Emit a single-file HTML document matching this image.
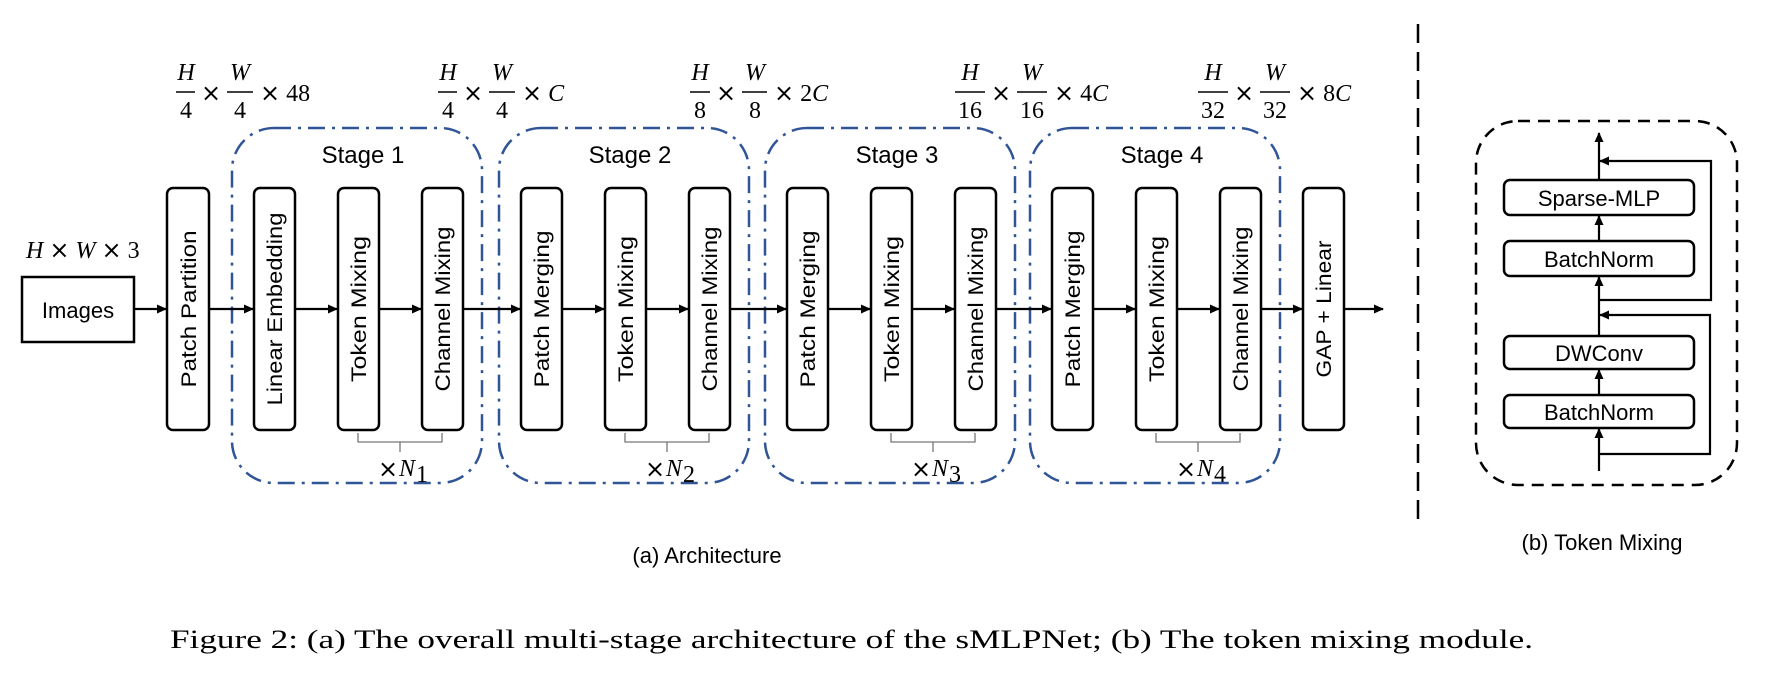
<!DOCTYPE html>
<html><head><meta charset="utf-8"><style>
html,body{margin:0;padding:0;background:#fff;}
svg{display:block;}
.b{font-family:"Liberation Sans",sans-serif;fill:#000;}
.m{font-family:"Liberation Serif",serif;font-style:italic;fill:#000;font-size:24px;}
.n{font-family:"Liberation Serif",serif;fill:#000;font-size:24px;}
.x{font-family:"DejaVu Sans",sans-serif;fill:#000;font-size:24px;}
</style></head><body>
<svg width="1774" height="691" viewBox="0 0 1774 691" xmlns="http://www.w3.org/2000/svg">
<defs>
<marker id="ah" markerWidth="10" markerHeight="10" refX="9" refY="5" orient="auto" markerUnits="userSpaceOnUse">
<path d="M0,0.5 L10,5 L0,9.5 z" fill="#000"/></marker>
</defs>
<g fill="none" stroke="#2F5597" stroke-width="2.5" stroke-dasharray="17 7 3 7">
<rect x="232" y="128" width="250" height="355" rx="42"/>
<rect x="499" y="128" width="250" height="355" rx="42"/>
<rect x="765" y="128" width="250" height="355" rx="42"/>
<rect x="1030" y="128" width="250" height="355" rx="42"/>
</g>
<g class="b" font-size="24" text-anchor="middle">
<text x="363" y="163">Stage 1</text>
<text x="630" y="163">Stage 2</text>
<text x="897" y="163">Stage 3</text>
<text x="1162" y="163">Stage 4</text>
</g>
<rect x="22" y="277" width="112" height="65" fill="none" stroke="#000" stroke-width="2.5"/>
<text class="b" x="78" y="318" font-size="22" text-anchor="middle">Images</text>
<g fill="none" stroke="#000" stroke-width="2.5">
<rect x="167" y="188" width="42" height="242" rx="6"/>
<rect x="254" y="188" width="41" height="242" rx="6"/>
<rect x="338" y="188" width="41" height="242" rx="6"/>
<rect x="422" y="188" width="41" height="242" rx="6"/>
<rect x="521" y="188" width="41" height="242" rx="6"/>
<rect x="605" y="188" width="41" height="242" rx="6"/>
<rect x="689" y="188" width="41" height="242" rx="6"/>
<rect x="787" y="188" width="41" height="242" rx="6"/>
<rect x="871" y="188" width="41" height="242" rx="6"/>
<rect x="955" y="188" width="41" height="242" rx="6"/>
<rect x="1052" y="188" width="41" height="242" rx="6"/>
<rect x="1136" y="188" width="41" height="242" rx="6"/>
<rect x="1220" y="188" width="41" height="242" rx="6"/>
<rect x="1303" y="188" width="41" height="242" rx="6"/>
</g>
<g class="b" font-size="21" text-anchor="middle">
<text transform="translate(196,309) rotate(-90)" textLength="157" lengthAdjust="spacingAndGlyphs">Patch Partition</text>
<text transform="translate(282,309) rotate(-90)" textLength="193" lengthAdjust="spacingAndGlyphs">Linear Embedding</text>
<text transform="translate(366,309) rotate(-90)" textLength="146" lengthAdjust="spacingAndGlyphs">Token Mixing</text>
<text transform="translate(450,309) rotate(-90)" textLength="165" lengthAdjust="spacingAndGlyphs">Channel Mixing</text>
<text transform="translate(549,309) rotate(-90)" textLength="157" lengthAdjust="spacingAndGlyphs">Patch Merging</text>
<text transform="translate(633,309) rotate(-90)" textLength="146" lengthAdjust="spacingAndGlyphs">Token Mixing</text>
<text transform="translate(717,309) rotate(-90)" textLength="165" lengthAdjust="spacingAndGlyphs">Channel Mixing</text>
<text transform="translate(815,309) rotate(-90)" textLength="157" lengthAdjust="spacingAndGlyphs">Patch Merging</text>
<text transform="translate(899,309) rotate(-90)" textLength="146" lengthAdjust="spacingAndGlyphs">Token Mixing</text>
<text transform="translate(983,309) rotate(-90)" textLength="165" lengthAdjust="spacingAndGlyphs">Channel Mixing</text>
<text transform="translate(1080,309) rotate(-90)" textLength="157" lengthAdjust="spacingAndGlyphs">Patch Merging</text>
<text transform="translate(1164,309) rotate(-90)" textLength="146" lengthAdjust="spacingAndGlyphs">Token Mixing</text>
<text transform="translate(1248,309) rotate(-90)" textLength="165" lengthAdjust="spacingAndGlyphs">Channel Mixing</text>
<text transform="translate(1331,309) rotate(-90)" textLength="137" lengthAdjust="spacingAndGlyphs">GAP + Linear</text>
</g>
<g stroke="#000" stroke-width="2.2" marker-end="url(#ah)">
<line x1="134" y1="309" x2="166" y2="309"/>
<line x1="209" y1="309" x2="253" y2="309"/>
<line x1="295" y1="309" x2="337" y2="309"/>
<line x1="379" y1="309" x2="421" y2="309"/>
<line x1="463" y1="309" x2="520" y2="309"/>
<line x1="562" y1="309" x2="604" y2="309"/>
<line x1="646" y1="309" x2="688" y2="309"/>
<line x1="730" y1="309" x2="786" y2="309"/>
<line x1="828" y1="309" x2="870" y2="309"/>
<line x1="912" y1="309" x2="954" y2="309"/>
<line x1="996" y1="309" x2="1051" y2="309"/>
<line x1="1093" y1="309" x2="1135" y2="309"/>
<line x1="1177" y1="309" x2="1219" y2="309"/>
<line x1="1261" y1="309" x2="1302" y2="309"/>
<line x1="1344" y1="309" x2="1383" y2="309"/>
</g>
<g fill="none" stroke="#777" stroke-width="1.3">
<path d="M358,433 V442 H442 V433 M400,442 V452"/>
<path d="M625,433 V442 H709 V433 M667,442 V452"/>
<path d="M891,433 V442 H975 V433 M933,442 V452"/>
<path d="M1156,433 V442 H1240 V433 M1198,442 V452"/>
</g>
<g>
<text class="x" x="378" y="477" font-size="22">×</text><text class="m" x="399" y="476">N</text><text class="n" x="416" y="482" font-size="15">1</text>
<text class="x" x="645" y="477" font-size="22">×</text><text class="m" x="666" y="476">N</text><text class="n" x="683" y="482" font-size="15">2</text>
<text class="x" x="911" y="477" font-size="22">×</text><text class="m" x="932" y="476">N</text><text class="n" x="949" y="482" font-size="15">3</text>
<text class="x" x="1176" y="477" font-size="22">×</text><text class="m" x="1197" y="476">N</text><text class="n" x="1214" y="482" font-size="15">4</text>
</g>
<text class="m" x="26" y="258" font-size="25">H <tspan class="x" font-style="normal" font-size="24">×</tspan> W <tspan class="x" font-style="normal" font-size="24">×</tspan><tspan font-style="normal"> 3</tspan></text>
<!-- fraction labels -->
<g stroke="#000" stroke-width="1.5">
<line x1="176" y1="92" x2="195" y2="92"/><line x1="227" y1="92" x2="253" y2="92"/>
<line x1="438" y1="92" x2="457" y2="92"/><line x1="489" y1="92" x2="515" y2="92"/>
<line x1="690" y1="92" x2="710" y2="92"/><line x1="742" y1="92" x2="767" y2="92"/>
<line x1="955" y1="92" x2="985" y2="92"/><line x1="1017" y1="92" x2="1047" y2="92"/>
<line x1="1198" y1="92" x2="1228" y2="92"/><line x1="1260" y1="92" x2="1290" y2="92"/>
</g>
<g text-anchor="middle">
<text class="m" x="186" y="80">H</text><text class="n" x="186" y="118">4</text><text class="x" x="211" y="101">×</text>
<text class="m" x="240" y="80">W</text><text class="n" x="240" y="118">4</text>
<text class="m" x="448" y="80">H</text><text class="n" x="448" y="118">4</text><text class="x" x="473" y="101">×</text>
<text class="m" x="502" y="80">W</text><text class="n" x="502" y="118">4</text>
<text class="m" x="700" y="80">H</text><text class="n" x="700" y="118">8</text><text class="x" x="726" y="101">×</text>
<text class="m" x="755" y="80">W</text><text class="n" x="755" y="118">8</text>
<text class="m" x="970" y="80">H</text><text class="n" x="970" y="118">16</text><text class="x" x="1001" y="101">×</text>
<text class="m" x="1032" y="80">W</text><text class="n" x="1032" y="118">16</text>
<text class="m" x="1213" y="80">H</text><text class="n" x="1213" y="118">32</text><text class="x" x="1244" y="101">×</text>
<text class="m" x="1275" y="80">W</text><text class="n" x="1275" y="118">32</text>
</g>
<text class="n" x="260" y="101"><tspan class="x">×</tspan> 48</text>
<text class="n" x="522" y="101"><tspan class="x">×</tspan> <tspan font-style="italic">C</tspan></text>
<text class="n" x="774" y="101"><tspan class="x">×</tspan> 2<tspan font-style="italic">C</tspan></text>
<text class="n" x="1054" y="101"><tspan class="x">×</tspan> 4<tspan font-style="italic">C</tspan></text>
<text class="n" x="1297" y="101"><tspan class="x">×</tspan> 8<tspan font-style="italic">C</tspan></text>
<!-- separator -->
<line x1="1418" y1="24" x2="1418" y2="525" stroke="#000" stroke-width="2.5" stroke-dasharray="19 9"/>
<!-- token mixing panel -->
<rect x="1476" y="121" width="261" height="364" rx="42" fill="none" stroke="#000" stroke-width="2.5" stroke-dasharray="12 8"/>
<g fill="none" stroke="#000" stroke-width="2.5">
<rect x="1504" y="180" width="190" height="35" rx="6"/>
<rect x="1504" y="241" width="190" height="35" rx="6"/>
<rect x="1504" y="336" width="190" height="33" rx="6"/>
<rect x="1504" y="395" width="190" height="33" rx="6"/>
</g>
<g class="b" font-size="22" text-anchor="middle">
<text x="1599" y="206">Sparse-MLP</text>
<text x="1599" y="267">BatchNorm</text>
<text x="1599" y="361">DWConv</text>
<text x="1599" y="420">BatchNorm</text>
</g>
<g stroke="#000" stroke-width="2.2" fill="none" marker-end="url(#ah)">
<line x1="1599" y1="471" x2="1599" y2="429"/>
<line x1="1599" y1="395" x2="1599" y2="370"/>
<line x1="1599" y1="336" x2="1599" y2="277"/>
<line x1="1599" y1="241" x2="1599" y2="216"/>
<line x1="1599" y1="180" x2="1599" y2="133"/>
<polyline points="1599,454 1710,454 1710,315 1600,315"/>
<polyline points="1599,300 1711,300 1711,161 1600,161"/>
</g>
<text class="b" x="1602" y="550" font-size="22" text-anchor="middle">(b) Token Mixing</text>
<text class="b" x="707" y="563" font-size="22" text-anchor="middle">(a) Architecture</text>
<text x="170" y="648" font-family="Liberation Serif, serif" font-size="26" textLength="1363" lengthAdjust="spacingAndGlyphs">Figure 2: (a) The overall multi-stage architecture of the sMLPNet; (b) The token mixing module.</text>
</svg>
</body></html>
